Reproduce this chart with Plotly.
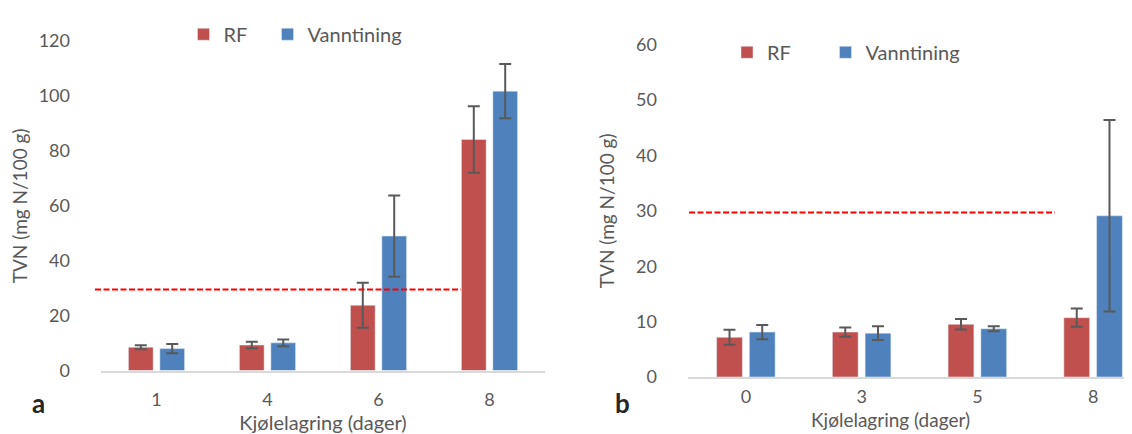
import plotly.graph_objects as go

# ---- data ----
days_a = ["1", "4", "6", "8"]
rf_a = [8.5, 9.3, 23.8, 84.2]
rf_a_err = [0.7, 1.2, 8.2, 12.1]
vann_a = [8.0, 10.1, 49.0, 101.8]
vann_a_err = [1.7, 1.2, 14.8, 9.9]

days_b = ["0", "3", "5", "8"]
rf_b = [7.15, 8.1, 9.5, 10.7]
rf_b_err = [1.35, 0.85, 0.95, 1.65]
vann_b = [8.1, 7.9, 8.7, 29.1]
vann_b_err = [1.3, 1.25, 0.45, 17.3]

limit_a = 29.5
limit_b = 29.7

yticks_a = [0, 20, 40, 60, 80, 100, 120]
yticks_b = [0, 10, 20, 30, 40, 50, 60]

x_title = "Kjølelagring (dager)"
y_title = "TVN (mg N/100 g)"

# ---- style ----
RED = "#C0504D"
BLUE = "#4F81BD"
GREY = "#595959"
FONT = "Lato"
W, H = 1132, 434


def px_x(p):
    return p / W


def px_y(p):
    return 1 - p / H


def err(vals):
    return dict(type="data", array=vals, visible=True, color=GREY, thickness=2, width=6)


fig = go.Figure()
fig.add_trace(go.Bar(x=days_a, y=rf_a, name="RF", marker_color=RED, error_y=err(rf_a_err),
                     xaxis="x", yaxis="y", legend="legend"))
fig.add_trace(go.Bar(x=days_a, y=vann_a, name="Vanntining", marker_color=BLUE, error_y=err(vann_a_err),
                     xaxis="x", yaxis="y", legend="legend2"))
fig.add_trace(go.Bar(x=days_b, y=rf_b, name="RF", marker_color=RED, error_y=err(rf_b_err),
                     xaxis="x2", yaxis="y2", legend="legend3"))
fig.add_trace(go.Bar(x=days_b, y=vann_b, name="Vanntining", marker_color=BLUE, error_y=err(vann_b_err),
                     xaxis="x2", yaxis="y2", legend="legend4"))

axis_common = dict(showgrid=False, zeroline=False, ticks="", tickfont=dict(family=FONT, size=18, color=GREY))


def leg(xp, yp):
    return dict(orientation="h", x=px_x(xp), y=px_y(yp), xanchor="left", yanchor="middle",
                font=dict(family=FONT, size=20, color=GREY), itemwidth=30,
                bgcolor="rgba(0,0,0,0)", borderwidth=0)


fig.update_layout(
    width=W, height=H,
    margin=dict(l=0, r=0, t=0, b=0),
    paper_bgcolor="white", plot_bgcolor="white",
    font=dict(family=FONT, color=GREY),
    barmode="group", bargap=0.434, bargroupgap=0.213,
    xaxis=dict(domain=[px_x(93), px_x(537)], anchor="y", type="category", range=[-0.5, 3.5],
               showline=True, linecolor="#D9D9D9", linewidth=2, ticklabelstandoff=12,
               title=dict(text=x_title, font=dict(family=FONT, size=20, color=GREY), standoff=0),
               **axis_common),
    yaxis=dict(domain=[px_y(369.3), px_y(22.3)], anchor="x", range=[0, 120], tickvals=yticks_a,
               showline=False, ticklabelstandoff=30,
               title=dict(text=y_title, font=dict(family=FONT, size=19, color=GREY), standoff=12),
               **axis_common),
    xaxis2=dict(domain=[px_x(680), 1.0], anchor="y2", type="category", range=[-0.5, 3.405],
                showline=True, linecolor="#D9D9D9", linewidth=2, ticklabelstandoff=2,
                **axis_common),
    yaxis2=dict(domain=[px_y(376), px_y(26)], anchor="x2", range=[0, 60], tickvals=yticks_b,
                showline=False, ticklabelstandoff=30,
                title=dict(text=y_title, font=dict(family=FONT, size=19, color=GREY), standoff=16),
                **axis_common),
    legend=leg(175.5, 15),
    legend2=leg(259.5, 15),
    legend3=leg(719, 34),
    legend4=leg(817.5, 34),
    showlegend=True,
)

# x-axis title of panel b (sits at the very bottom edge, as in the source)
fig.add_annotation(text=x_title, xref="paper", yref="paper", x=px_x(882), y=0,
                   xanchor="center", yanchor="bottom", showarrow=False, borderpad=0,
                   font=dict(family=FONT, size=19, color=GREY))

# threshold lines
fig.add_shape(type="line", xref="paper", yref="y", x0=px_x(87), x1=px_x(453), y0=limit_a, y1=limit_a,
              line=dict(color="#FF0000", width=2, dash="6px,2.5px"), layer="above")
fig.add_shape(type="line", xref="paper", yref="y2", x0=px_x(681), x1=px_x(1047), y0=limit_b, y1=limit_b,
              line=dict(color="#FF0000", width=2, dash="6px,2.5px"), layer="above")

# panel letters
fig.add_annotation(text="<b>a</b>", xref="paper", yref="paper", x=px_x(30), y=px_y(403),
                   xanchor="center", yanchor="middle",
                   showarrow=False, font=dict(family=FONT, size=26, color="#262626"))
fig.add_annotation(text="<b>b</b>", xref="paper", yref="paper", x=px_x(614), y=px_y(403),
                   xanchor="center", yanchor="middle",
                   showarrow=False, font=dict(family=FONT, size=26, color="#262626"))

fig.write_html("out.html")
